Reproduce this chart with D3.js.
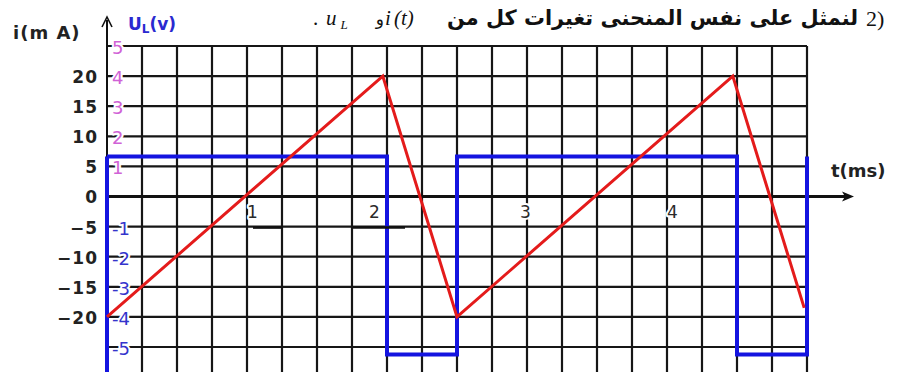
<!DOCTYPE html>
<html>
<head>
<meta charset="utf-8">
<script src="https://cdn.jsdelivr.net/npm/d3@7"></script>
<style>
  body { margin: 0; background: #fff; }
  svg { display: block; }
  .lbl { font-family: "DejaVu Sans", sans-serif; font-weight: bold; }
  .num { paint-order: stroke; stroke: #fff; stroke-width: 4px; stroke-linejoin: round; }
</style>
</head>
<body>
<div id="chart"></div>
<script>
// i(t) triangle wave, mA
var tCurrent = [0, 1.97, 2.5, 4.47, 4.98];
var iCurrent = [-20, 20, -20, 20, -18.5];

// u_L(t) square wave, V
var tVoltage = [0, 2, 2, 2.5, 2.5, 4.5, 4.5, 5, 5];
var uVoltage = [1.33, 1.33, -5.25, -5.25, 1.33, 1.33, -5.25, -5.25, 1.33];

// tick labels
var iTicks = [20, 15, 10, 5, 0, -5, -10, -15, -20];
var uTicks = [5, 4, 3, 2, 1, -1, -2, -3, -4, -5];
var tTicks = [1, 2, 3, 4];
var gridStep = 0.25; // ms per column

var width = 908, height = 372;

var svg = d3.select('#chart').append('svg')
  .attr('width', width)
  .attr('height', height);

var x = d3.scaleLinear().domain([0, 5]).range([107, 807]);
var yU = d3.scaleLinear().domain([-5, 5]).range([347, 46]);
var yI = d3.scaleLinear().domain([-25, 25]).range([347, 46]);

// grid
var gridT = d3.range(1, 21).map(function(k) { return k * gridStep; });
var gridU = d3.range(-5, 6).filter(function(v) { return v !== 0; });

svg.append('g').selectAll('line').data(gridT).enter().append('line')
  .attr('x1', function(d) { return x(d); })
  .attr('x2', function(d) { return x(d); })
  .attr('y1', yU(5))
  .attr('y2', height)
  .attr('stroke', '#161616')
  .attr('stroke-width', 2.2);

svg.append('g').selectAll('line').data(gridU).enter().append('line')
  .attr('x1', x(0))
  .attr('x2', x(5))
  .attr('y1', function(d) { return yU(d); })
  .attr('y2', function(d) { return yU(d); })
  .attr('stroke', '#161616')
  .attr('stroke-width', 2.2);

// time axis with arrow
svg.append('line')
  .attr('x1', x(0)).attr('x2', 850)
  .attr('y1', yU(0)).attr('y2', yU(0))
  .attr('stroke', '#111').attr('stroke-width', 3);
svg.append('path')
  .attr('d', 'M854,' + yU(0) + 'l-12,-5 l3,5 l-3,5z')
  .attr('fill', '#111');

// vertical axis with arrow
svg.append('line')
  .attr('x1', x(0)).attr('x2', x(0))
  .attr('y1', 20).attr('y2', height)
  .attr('stroke', '#111').attr('stroke-width', 2);
svg.append('path')
  .attr('d', 'M' + (x(0) - 5) + ',27 L' + x(0) + ',17 L' + (x(0) + 5) + ',27')
  .attr('fill', 'none').attr('stroke', '#111').attr('stroke-width', 1.6);

// lower part of the vertical axis is blue in the original
svg.append('line')
  .attr('x1', x(0)).attr('x2', x(0))
  .attr('y1', yU(uVoltage[0])).attr('y2', height)
  .attr('stroke', '#1414e0').attr('stroke-width', 4);

// u_L square wave
var uLine = d3.line()
  .x(function(d) { return x(d[0]); })
  .y(function(d) { return yU(d[1]); });
svg.append('path')
  .datum(d3.zip(tVoltage, uVoltage))
  .attr('d', uLine)
  .attr('fill', 'none')
  .attr('stroke', '#1414e0')
  .attr('stroke-width', 4);

// i triangle wave
var iLine = d3.line()
  .x(function(d) { return x(d[0]); })
  .y(function(d) { return yI(d[1]); });
svg.append('path')
  .datum(d3.zip(tCurrent, iCurrent))
  .attr('d', iLine)
  .attr('fill', 'none')
  .attr('stroke', '#e41b1b')
  .attr('stroke-width', 3);

// mA labels
var iAxis = svg.append('g')
  .attr('transform', 'translate(98,0)')
  .call(d3.axisLeft(yI).tickValues(iTicks).tickSize(0).tickPadding(0));
iAxis.select('.domain').remove();
iAxis.selectAll('text')
  .attr('class', 'lbl')
  .attr('dy', '0.38em')
  .style('font-size', '17px')
  .style('letter-spacing', '1px')
  .attr('fill', '#222');

// volt labels
var uAxis = svg.append('g')
  .attr('transform', 'translate(112,0)')
  .call(d3.axisRight(yU).tickValues(uTicks).tickSize(0).tickPadding(0)
    .tickFormat(function(d) { return d < 0 ? '-' + (-d) : d; }));
uAxis.select('.domain').remove();
uAxis.selectAll('text')
  .attr('class', 'num')
  .attr('dy', '0.42em')
  .style('font-family', '"DejaVu Sans", sans-serif')
  .style('font-size', '18px')
  .attr('fill', function(d) { return d > 0 ? '#d062d6' : '#3434cc'; });

// time labels
var tNudge = [5, -13, -2, 5];
var tAxis = svg.append('g')
  .attr('transform', 'translate(0,' + (yU(0) + 9) + ')')
  .call(d3.axisBottom(x).tickValues(tTicks).tickSize(0).tickPadding(0)
    .tickFormat(d3.format('d')));
tAxis.select('.domain').remove();
tAxis.selectAll('text')
  .attr('class', 'num')
  .attr('dx', function(d, i) { return tNudge[i]; })
  .style('font-family', '"DejaVu Sans", sans-serif')
  .style('font-size', '17px')
  .attr('fill', '#2a2a2a');

// little underline strokes under "1" and "2"
svg.append('line')
  .attr('x1', x(1) + 6).attr('x2', x(1) + 36)
  .attr('y1', yI(-5) + 1).attr('y2', yI(-5) + 1)
  .attr('stroke', '#111').attr('stroke-width', 2.5);
svg.append('line')
  .attr('x1', x(2) - 34).attr('x2', x(2) + 18)
  .attr('y1', yI(-5) + 1).attr('y2', yI(-5) + 1)
  .attr('stroke', '#111').attr('stroke-width', 2.5);

// axis titles
svg.append('text')
  .attr('class', 'lbl')
  .attr('x', 13).attr('y', 39)
  .style('font-size', '18px')
  .style('letter-spacing', '1px')
  .attr('fill', '#222')
  .text('i(m A)');

var uTitle = svg.append('text')
  .attr('class', 'lbl')
  .attr('x', 128).attr('y', 30)
  .style('font-size', '17px')
  .attr('fill', '#2a2ad0');
uTitle.append('tspan').text('U');
uTitle.append('tspan').attr('dy', 3).style('font-size', '12px').text('L');
uTitle.append('tspan').attr('dy', -3).text('(v)');

svg.append('text')
  .attr('class', 'lbl')
  .attr('x', 831).attr('y', 177)
  .style('font-size', '18px')
  .attr('fill', '#222')
  .text('t(ms)');

// arabic heading
var head = svg.append('g');
head.append('text')
  .attr('x', 866).attr('y', 26)
  .style('font-family', '"Liberation Serif", serif')
  .style('font-size', '22px')
  .attr('fill', '#111')
  .text('2');
head.append('text')
  .attr('x', 877).attr('y', 26)
  .style('font-family', '"Liberation Serif", serif')
  .style('font-size', '22px')
  .attr('fill', '#111')
  .text(')');
head.append('text')
  .attr('x', 447).attr('y', 25)
  .attr('textLength', 411)
  .attr('lengthAdjust', 'spacingAndGlyphs')
  .style('font-family', '"DejaVu Sans", sans-serif')
  .style('font-weight', 'bold')
  .style('font-size', '21px')
  .attr('fill', '#111')
  .text('لنمثل على نفس المنحنى تغيرات كل من');
head.append('text')
  .attr('x', 394).attr('y', 25)
  .style('font-family', '"Liberation Serif", serif')
  .style('font-style', 'italic')
  .style('font-size', '21px')
  .attr('fill', '#111')
  .text('(t)');
head.append('text')
  .attr('x', 385).attr('y', 25)
  .style('font-family', '"Liberation Serif", serif')
  .style('font-style', 'italic')
  .style('font-size', '21px')
  .attr('fill', '#111')
  .text('i');
head.append('text')
  .attr('x', 384).attr('y', 25)
  .attr('text-anchor', 'end')
  .style('font-family', '"DejaVu Sans", sans-serif')
  .style('font-size', '17px')
  .attr('fill', '#111')
  .text('و');
var uHead = head.append('text')
  .attr('x', 326).attr('y', 25)
  .style('font-family', '"Liberation Serif", serif')
  .style('font-style', 'italic')
  .style('font-size', '21px')
  .attr('fill', '#111');
uHead.append('tspan').text('u');
uHead.append('tspan').attr('dx', 4).attr('dy', 4).style('font-size', '13px').text('L');
head.append('text')
  .attr('x', 313).attr('y', 25)
  .style('font-family', '"Liberation Serif", serif')
  .style('font-size', '21px')
  .attr('fill', '#111')
  .text('.');
</script>
</body>
</html>
